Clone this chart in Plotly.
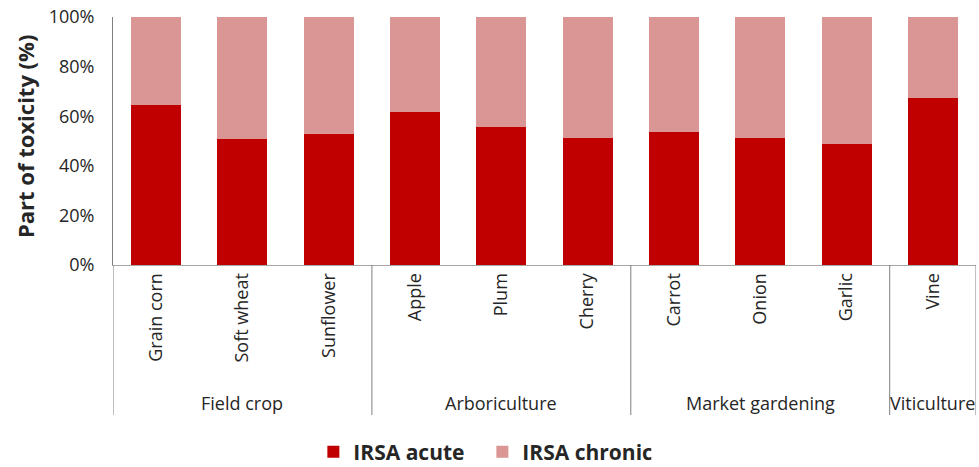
import plotly.graph_objects as go

crops = ["Grain corn", "Soft wheat", "Sunflower", "Apple", "Plum", "Cherry",
         "Carrot", "Onion", "Garlic", "Vine"]
groups = ["Field crop", "Field crop", "Field crop", "Arboriculture", "Arboriculture",
          "Arboriculture", "Market gardening", "Market gardening", "Market gardening",
          "Viticulture"]
acute = [64.5, 50.7, 52.7, 61.8, 55.8, 51.1, 53.8, 51.3, 48.7, 67.2]
chronic = [100 - a for a in acute]
y_ticks = [0, 20, 40, 60, 80, 100]

FONT = "Open Sans"
TXT = "#262626"

fig = go.Figure()
fig.add_trace(go.Bar(x=crops, y=acute, name="IRSA acute", marker_color="#C00000",
                     marker_line_width=0, width=0.58))
fig.add_trace(go.Bar(x=crops, y=chronic, name="IRSA chronic", marker_color="#D99694",
                     marker_line_width=0, width=0.58))

# group separators and labels
bounds = []
start = 0
for i in range(1, len(groups) + 1):
    if i == len(groups) or groups[i] != groups[start]:
        bounds.append((start, i - 1, groups[start]))
        start = i
sep_positions = sorted(set([b[0] - 0.5 for b in bounds] + [bounds[-1][1] + 0.5]))
for xp in sep_positions:
    fig.add_shape(type="line", xref="x", yref="paper", x0=xp, x1=xp, y0=0, y1=-0.605,
                  line=dict(color="#7f7f7f", width=1))
for s, e, g in bounds:
    fig.add_annotation(x=(s + e) / 2, xref="x", y=0, yref="paper", yshift=-138,
                       text=g, showarrow=False, yanchor="middle",
                       font=dict(family=FONT, size=18, color=TXT))

fig.add_annotation(text="<b>Part of toxicity (%)</b>", textangle=-90, x=0, xref="paper",
                   xanchor="center", xshift=-88, y=0.5, yref="paper", yanchor="middle",
                   yshift=4, showarrow=False,
                   font=dict(family=FONT, size=22, color=TXT))

fig.update_layout(
    barmode="stack",
    width=979, height=467,
    margin=dict(l=113, r=3, t=17, b=202, autoexpand=False),
    paper_bgcolor="white", plot_bgcolor="white",
    font=dict(family=FONT, size=15, color=TXT),
    showlegend=True,
    legend=dict(orientation="h", x=0.428, xanchor="center", y=-0.754, yanchor="middle",
                font=dict(family=FONT, size=21, color=TXT, weight="bold"),
                traceorder="normal", itemwidth=30, entrywidth=124,
                entrywidthmode="pixels"),
)
fig.update_xaxes(type="category", range=[-0.5, len(crops) - 0.5], tickangle=-90,
                 showline=True, linecolor="#a6a6a6", linewidth=1, ticks="",
                 automargin=False, showgrid=False,
                 tickfont=dict(family=FONT, size=18, color=TXT))
fig.update_yaxes(range=[0, 100], tickvals=y_ticks, ticktext=[f"{v}%" for v in y_ticks],
                 showgrid=False, showline=True, linecolor="#7f7f7f", linewidth=1,
                 ticks="", zeroline=False, automargin=False, ticklabelstandoff=14,
                 tickfont=dict(family=FONT, size=18, color=TXT))

fig.write_html("out.html", config={"displayModeBar": False},
               post_script="document.body.style.margin='0';")
